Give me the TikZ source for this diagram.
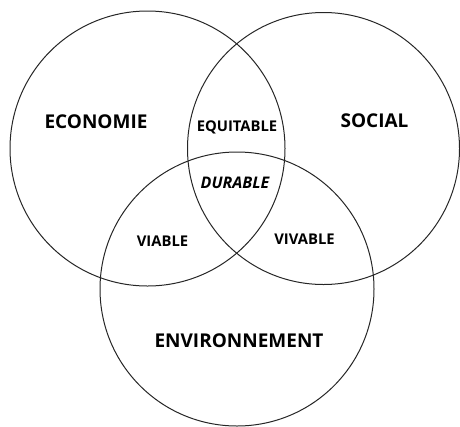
\documentclass[tikz,border=0pt]{standalone}
\usepackage{fontspec}
\setmainfont{Open Sans}
\usetikzlibrary{positioning}

\begin{document}
\begin{tikzpicture}[x=1pt, y=-1pt,
  ring/.style={draw=black!85, line width=1pt},
  pole/.style={font=\bfseries\fontsize{19}{21}\selectfont},
  inter/.style={font=\bfseries\fontsize{14.8}{16}\selectfont}]
  % Fix the frame
  \useasboundingbox (0,0) rectangle (460,426);

  % Draw the three circles
  \draw[ring] (147.5,148.5) circle[radius=137.5pt];
  \draw[ring] (323.5,148.5) circle[radius=136pt];
  \draw[ring] (237,289) circle[radius=137pt];

  % Names of the circles
  \node[pole] (eco) at (96,122) {ECONOMIE};
  \node[pole] (soc) at (374.5,121) {SOCIAL};
  \node[pole] (env) at (239,341) {ENVIRONNEMENT};

  % Overlaps
  \node[inter] (equ) at (237,127) {EQUITABLE};
  \node[inter] (via) at (162.5,241) {VIABLE};
  \node[inter] (viv) at (304.5,239) {VIVABLE};
  \node[inter, font=\bfseries\itshape\fontsize{16}{18}\selectfont] (dur) at (235,183) {DURABLE};
\end{tikzpicture}
\end{document}
